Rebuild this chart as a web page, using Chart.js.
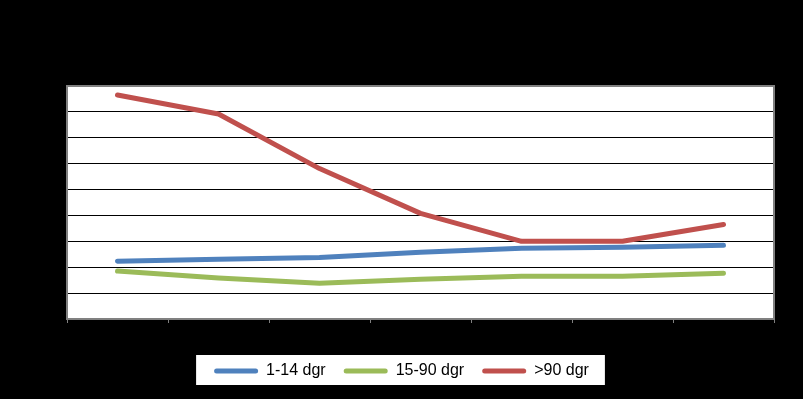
<!DOCTYPE html>
<html>
<head>
<meta charset="utf-8">
<script src="https://cdn.jsdelivr.net/npm/chart.js@4"></script>
<style>
  html, body { margin: 0; padding: 0; background: #000; }
  #wrap { width: 803px; height: 399px; }
</style>
</head>
<body>
<div id="wrap"><canvas id="my-graph"></canvas></div>
<script>
  // values (tick labels are black on black in the original)
  const categories = ['2007', '2008', '2009', '2010', '2011', '2012', '2013'];
  const yTicks = [0, 1, 2, 3, 4, 5, 6, 7, 8, 9];
  const days1to14 = [2.23, 2.31, 2.38, 2.58, 2.73, 2.77, 2.85];
  const days15to90 = [1.85, 1.58, 1.38, 1.54, 1.65, 1.65, 1.77];
  const daysOver90 = [8.65, 7.92, 5.81, 4.08, 3.0, 3.0, 3.65];

  const bgPlugin = {
    id: 'bg',
    beforeDraw(chart) {
      const ctx = chart.ctx;
      const a = chart.chartArea;
      ctx.save();
      ctx.fillStyle = '#000';
      ctx.fillRect(0, 0, chart.width, chart.height);
      ctx.fillStyle = '#fff';
      ctx.fillRect(a.left, a.top, a.right - a.left, a.bottom - a.top);
      // white legend box
      const boxes = chart.legend.legendHitBoxes;
      if (boxes && boxes.length) {
        const l = Math.min(...boxes.map(b => b.left));
        const r = Math.max(...boxes.map(b => b.left + b.width));
        const t = Math.min(...boxes.map(b => b.top));
        const b2 = Math.max(...boxes.map(b => b.top + b.height));
        ctx.fillRect(l - 18, t - 8, (r - l) + 34, (b2 - t) + 14);
      }
      ctx.restore();
    },
    afterDatasetsDraw(chart) {
      const ctx = chart.ctx;
      const a = chart.chartArea;
      ctx.save();
      ctx.strokeStyle = '#808080';
      ctx.lineWidth = 2;
      ctx.strokeRect(a.left, a.top, a.right - a.left, a.bottom - a.top);
      ctx.restore();
    }
  };

  const mygraph = document.getElementById('my-graph');

  new Chart(mygraph, {
    type: 'line',
    data: {
      labels: categories,
      datasets: [
        { label: '1-14 dgr', data: days1to14, borderColor: '#4F81BD' },
        { label: '15-90 dgr', data: days15to90, borderColor: '#9BBB59' },
        { label: '>90 dgr', data: daysOver90, borderColor: '#C0504D' }
      ]
    },
    options: {
      responsive: true,
      maintainAspectRatio: false,
      animation: false,
      layout: { padding: { top: 86, right: 29, left: 29, bottom: 10 } },
      elements: {
        line: { borderWidth: 5, tension: 0, borderCapStyle: 'round', borderJoinStyle: 'round' },
        point: { radius: 0 }
      },
      scales: {
        x: {
          offset: true,
          grid: { offset: true, drawOnChartArea: false, color: '#808080', tickLength: 4 },
          border: { color: '#808080', width: 2 },
          ticks: { color: '#000', font: { family: 'Liberation Sans', size: 13 } },
          afterFit(scale) { scale.height = 26; }
        },
        y: {
          min: 0,
          max: 9,
          afterBuildTicks(scale) { scale.ticks = yTicks.map(v => ({ value: v })); },
          grid: { color: '#000', drawTicks: false },
          border: { color: '#808080', width: 2 },
          ticks: { color: '#000', font: { family: 'Liberation Sans', size: 13 } },
          afterFit(scale) { scale.width = 38; }
        }
      },
      plugins: {
        tooltip: { enabled: false },
        legend: {
          position: 'bottom',
          labels: {
            color: '#000',
            font: { family: 'Liberation Sans', size: 16 },
            boxWidth: 44,
            boxHeight: 5,
            padding: 18,
            useBorderRadius: true,
            borderRadius: 2.5,
            generateLabels(chart) {
              return Chart.defaults.plugins.legend.labels.generateLabels(chart).map(l => ({
                ...l, fillStyle: l.strokeStyle, lineWidth: 0
              }));
            }
          }
        }
      }
    },
    plugins: [bgPlugin]
  });
</script>
</body>
</html>
